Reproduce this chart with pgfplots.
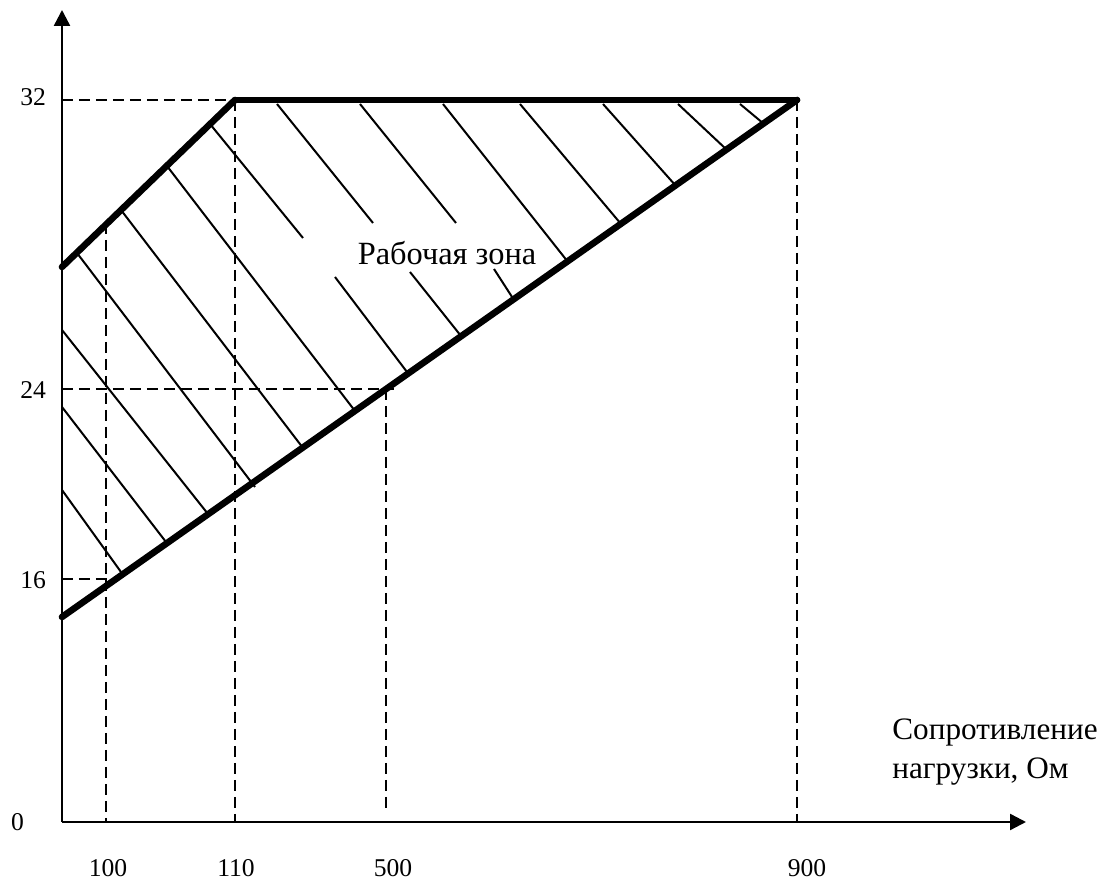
\documentclass[border=0pt]{standalone}
\usepackage{fontspec}
\setmainfont{Liberation Serif}
\usepackage{pgfplots}
\pgfplotsset{compat=1.18}
\usetikzlibrary{arrows.meta}

% coordinates are in pixels of the original sketch, y measured upwards
\pgfplotsset{
  bound/.style={black, line width=3.3pt, line cap=round, no marks},
  hatch/.style={black, line width=1pt, no marks},
  guide/.style={black, line width=1pt, dash pattern=on 5.5pt off 3pt, no marks},
}

\begin{document}
\begin{tikzpicture}
\begin{axis}[
  x=0.5pt, y=0.5pt,
  xmin=62, xmax=1026, ymin=54, ymax=866,
  enlargelimits=false,
  axis lines=left,
  x axis line style={line width=1.2pt, -{Triangle[length=8pt,width=8pt]}},
  y axis line style={line width=1.2pt, -{Triangle[length=8pt,width=8pt]}},
  clip=false,
  major tick length=0pt,
  xtick={108,236,393,807}, xticklabels={100,110,500,900},
  ytick={296,486,779}, yticklabels={16,24,32},
  extra y ticks={54}, extra y tick labels={0},
  extra y tick style={yticklabel style={xshift=-11pt}},
  /pgf/number format/assume math mode=true,
  tick label style={font=\fontsize{12.8}{14}\selectfont},
  xticklabel style={yshift=-15pt},
  yticklabel style={xshift=-4.5pt},
  xlabel={Сопротивление\\нагрузки, Ом},
  x label style={at={(rel axis cs:0.861,0.086)}, anchor=west, align=left,
    inner sep=0pt, font=\fontsize{15.6}{19.5}\selectfont},
]
% boundaries of the working zone
\addplot[bound] coordinates {(62,609) (235,776)};
\addplot[bound] coordinates {(235,776) (797,776)};
\addplot[bound] coordinates {(62,259) (797,776)};

% dashed guides
\addplot[guide] coordinates {(62,776) (235,776)};
\addplot[guide] coordinates {(235,776) (235,54)};
\addplot[guide] coordinates {(797,776) (797,54)};
\addplot[guide] coordinates {(106,653) (106,54)};
\addplot[guide] coordinates {(62,487) (394,487)};
\addplot[guide] coordinates {(386,487) (386,64)};
\addplot[guide] coordinates {(62,297) (110,297)};

% hatching
\addplot[hatch] coordinates {(62,386) (121,304)};
\addplot[hatch] coordinates {(62,469) (166,334)};
\addplot[hatch] coordinates {(62,546) (208,362)};
\addplot[hatch] coordinates {(77,623) (255,389)};
\addplot[hatch] coordinates {(121,666) (303,428)};
\addplot[hatch] coordinates {(167,710) (355,465)};
\addplot[hatch] coordinates {(210,752) (303,638)};
\addplot[hatch] coordinates {(335,599) (407,504)};
\addplot[hatch] coordinates {(277,772) (373,653)};
\addplot[hatch] coordinates {(410,604) (461,540)};
\addplot[hatch] coordinates {(360,772) (456,653)};
\addplot[hatch] coordinates {(494,607) (514,576)};
\addplot[hatch] coordinates {(443,772) (568,614)};
\addplot[hatch] coordinates {(520,772) (621,652)};
\addplot[hatch] coordinates {(603,772) (676,690)};
\addplot[hatch] coordinates {(678,772) (727,726)};
\addplot[hatch] coordinates {(740,772) (764,752)};

\node[font=\fontsize{16.2}{18}\selectfont] at (axis cs:447,623) {Рабочая зона};
\path (axis cs:0,0) rectangle (axis cs:1108,876);
\end{axis}
\end{tikzpicture}
\end{document}
